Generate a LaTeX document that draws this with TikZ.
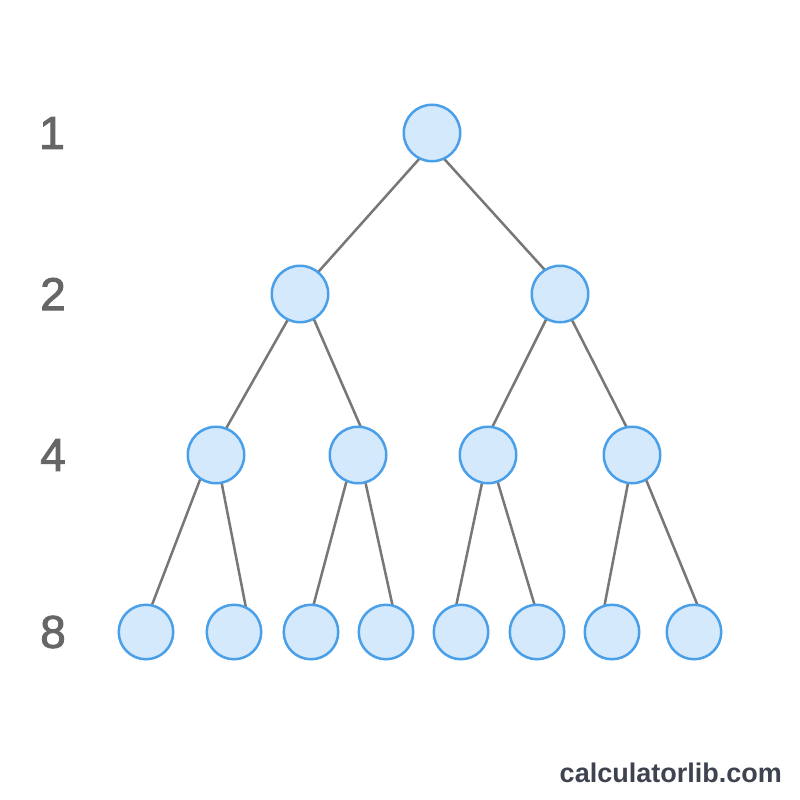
\documentclass[tikz,border=0pt]{standalone}
\usepackage{fontspec}
\setmainfont{Liberation Sans}
\newfontfamily\lblfont[FakeBold=2]{Liberation Sans}
\usetikzlibrary{calc,backgrounds}
\definecolor{nfill}{HTML}{D5E9FC}
\definecolor{nline}{HTML}{4A9FE9}
\definecolor{eline}{HTML}{777777}
\definecolor{lbl}{HTML}{666666}
\definecolor{wm}{HTML}{3E4350}
\begin{document}
\begin{tikzpicture}[x=1pt,y=-1pt,
  tnode/.style={circle,draw=nline,fill=nfill,line width=2.5pt,minimum size=56.5pt,inner sep=0pt},
  leaf/.style={tnode,minimum size=54.5pt},
  edge/.style={draw=eline,line width=2.5pt},
  lvl/.style={text=lbl,font=\lblfont\fontsize{46}{46}\selectfont,inner sep=0pt}]
\useasboundingbox (0,0) rectangle (800,800);
\node[tnode] (r) at (432,133) {};
\node[tnode] (a) at (300,294) {};
\node[tnode] (b) at (560,294) {};
\node[tnode] (a1) at (216,455) {};
\node[tnode] (a2) at (358,455) {};
\node[tnode] (b1) at (488,455) {};
\node[tnode] (b2) at (632,455) {};
\node[leaf] (l1) at (146,632) {};
\node[leaf] (l2) at (234,632) {};
\node[leaf] (l3) at (311,632) {};
\node[leaf] (l4) at (386,632) {};
\node[leaf] (l5) at (461,632) {};
\node[leaf] (l6) at (537,632) {};
\node[leaf] (l7) at (612,632) {};
\node[leaf] (l8) at (694,632) {};
\begin{scope}[on background layer]
\fill[white] (0,0) rectangle (800,800);
\path[edge]
  ($(r)+(10.3,0)$) -- ($(a)+(-1.4,0)$)
  ($(r)+(-11.3,0)$) -- ($(b)+(6.6,0)$)
  ($(a)+(2.4,0)$) -- ($(a1)+(-5,0)$)
  ($(a)+(2.9,0)$) -- ($(a2)+(15,0)$)
  ($(b)+(-1.1,0)$) -- ($(b1)+(-9.7,0)$)
  ($(b)+(-1.3,0)$) -- ($(b2)+(8.8,0)$)
  ($(a1)+(-6.5,0)$) -- ($(l1)+(-4.4,0)$)
  ($(a1)+(0.2,0)$) -- ($(l2)+(16.7,0)$)
  ($(a2)+(-4.5,0)$) -- ($(l3)+(-4.7,0)$)
  ($(a2)+(1.4,0)$) -- ($(l4)+(12.4,0)$)
  ($(b1)+(-0.1,0)$) -- ($(l5)+(-10.4,0)$)
  ($(b1)+(1.6,0)$) -- ($(l6)+(5.7,0)$)
  ($(b2)+(1.4,0)$) -- ($(l7)+(-12.6,0)$)
  ($(b2)+(3.9,0)$) -- ($(l8)+(14.6,0)$);
\end{scope}
\node[lvl] (t1) at (52,133) {1};
\node[lvl] (t2) at (53,294) {2};
\node[lvl] (t4) at (53,455) {4};
\node[lvl] (t8) at (53,632) {8};
\node[text=wm,font=\bfseries\fontsize{27}{27}\selectfont,anchor=east,inner sep=0pt] (w) at (782,773) {calculatorlib.com};
\end{tikzpicture}
\end{document}
